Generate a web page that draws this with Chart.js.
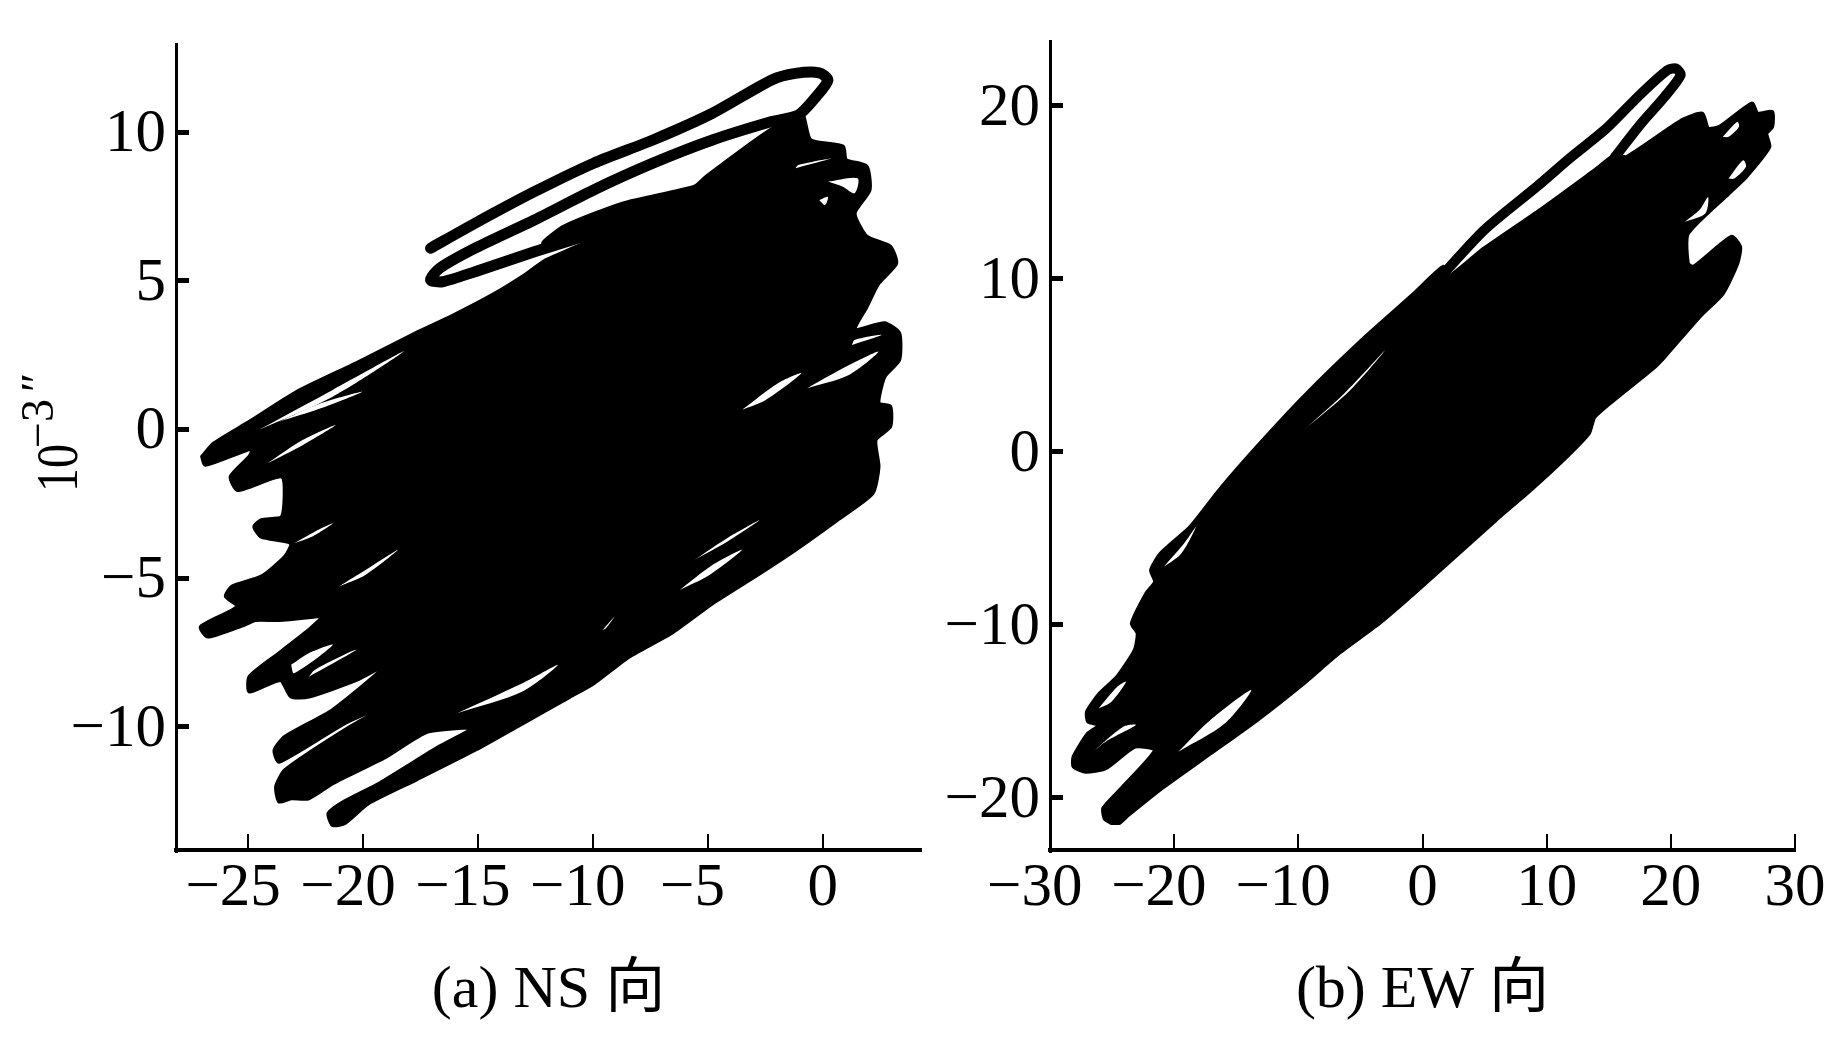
<!DOCTYPE html>
<html>
<head>
<meta charset="utf-8">
<title>NS EW</title>
<script src="https://cdn.jsdelivr.net/npm/chart.js@4"></script>
<style>
body { margin: 0; background: #fff; }
canvas { position: absolute; top: 0; }
#chartA { left: 0; }
#chartB { left: 930px; }
</style>
</head>
<body>
<canvas id="chartA" width="930" height="1039"></canvas>
<canvas id="chartB" width="913" height="1039"></canvas>
<script>
const ticksAX = [-25, -20, -15, -10, -5, 0]
const ticksAY = [-10, -5, 0, 5, 10]
const ticksBX = [-30, -20, -10, 0, 10, 20, 30]
const ticksBY = [-20, -10, 0, 10, 20]

// (a) NS: outline of the solid black part of the trace
const massAX = [-27.01,-26.5,-24.95,-22.88,-20.3,-17.72,-16.17,-14.36,-13.07,-12.03,-9.97,-12.16,-11.26,-8.68,-5.58,-5.06,-2.48,-0.93,-0.54,0.88,1.01,1.91,2.04,1.39,1.91,2.94,3.2,2.43,1.91,1.39,2.69,3.33,3.33,2.69,2.43,2.94,2.94,2.3,2.43,2.17,0.62,-1.19,-2.74,-4.8,-6.61,-8.42,-9.97,-11.0,-13.07,-15.13,-17.72,-19.78,-20.82,-21.33,-21.51,-20.82,-19.27,-16.68,-15.26,-17.2,-19.01,-21.33,-22.37,-23.14,-23.66,-23.79,-23.4,-20.56,-18.49,-20.82,-23.66,-23.86,-23.4,-21.33,-18.88,-20.3,-22.37,-23.14,-23.6,-24.95,-24.95,-23.66,-22.37,-21.59,-21.59,-23.66,-24.69,-25.21,-26.76,-27.07,-25.46,-25.98,-25.72,-24.43,-23.4,-23.14,-24.43,-24.74,-24.43,-23.53,-23.53,-25.46,-25.77,-24.95,-24.82,-26.88]
const massAY = [-0.91,-0.47,0.26,1.27,2.23,3.24,3.8,4.53,5.14,5.7,6.43,6.26,6.83,7.61,8.17,8.51,9.97,10.64,9.74,9.52,9.07,8.85,8.06,7.27,6.49,6.15,5.59,4.92,4.13,3.35,3.57,3.24,2.34,1.78,0.88,0.77,0.1,-0.35,-1.25,-2.15,-3.05,-4.05,-4.84,-5.85,-6.86,-7.64,-8.54,-8.99,-9.89,-10.78,-11.79,-12.58,-13.25,-13.31,-12.92,-12.52,-11.9,-10.67,-10.06,-10.17,-11.01,-11.9,-12.41,-12.41,-12.52,-12.02,-11.46,-10.0,-9.1,-9.89,-11.18,-10.79,-10.34,-9.44,-7.87,-8.43,-8.99,-8.99,-8.43,-8.82,-8.32,-7.53,-6.75,-6.2,-6.24,-6.41,-6.41,-6.58,-6.97,-6.64,-5.96,-5.62,-5.29,-4.95,-4.28,-3.83,-3.61,-3.27,-3.05,-2.93,-1.59,-2.04,-1.59,-0.91,-0.63,-1.19]
// the free loop at the top of (a)
const loopAX = [-17.07,-15.13,-12.55,-9.97,-7.39,-4.8,-2.22,-1.19,-0.15,0.23,-0.28,-1.06,-2.22,-4.8,-7.39,-9.97,-12.55,-15.13,-16.68,-17.07,-16.55,-15.13,-12.55,-9.97]
const loopAY = [6.1,6.94,8.0,8.96,9.74,10.64,11.76,11.98,12.0,11.76,11.2,10.58,10.36,9.74,8.96,8.06,7.05,6.1,5.42,5.03,4.97,5.31,5.98,6.6]
// white gaps inside the trace of (a)
const gapsAX = [
  [-24.56,-21.33,-18.23,-21.33],[-23.66,-21.85,-20.04,-21.85],[-24.17,-22.62,-21.2,-22.62],
  [-3.51,-1.96,-0.93,-2.48],[-0.67,0.88,2.43,1.14],[1.27,2.56,1.39],[-1.19,0.36,-1.06],
  [0.23,1.52,1.39,0.88],[-0.15,0.23,0.1],[-5.58,-4.16,-2.74,-4.16],[-6.22,-4.8,-3.51,-4.93],
  [-15.91,-13.07,-11.52,-13.07],[-23.01,-22.11,-21.33,-22.24],[-21.07,-19.78,-18.49,-19.91],
  [-23.14,-23.01,-21.33,-22.37],[-22.37,-20.3,-20.56,-22.11],[-9.58,-9.07,-9.45]
]
const gapsAY = [
  [-0.02,1.33,2.63,1.1],[0.26,0.88,1.27,0.71],[-1.14,-0.35,0.15,-0.52],
  [0.66,1.55,1.89,0.99],[1.39,2.06,2.62,1.83],[2.84,3.18,3.01],[8.79,9.12,8.9],
  [8.34,8.45,7.95,8.17],[7.72,7.83,7.55],[-4.39,-3.66,-3.05,-3.78],[-5.4,-4.56,-4.05,-4.9],
  [-9.55,-8.54,-7.92,-8.82],[-3.83,-3.44,-3.16,-3.61],[-5.29,-4.67,-4.05,-4.9],
  [-7.92,-8.2,-7.25,-7.53],[-8.32,-7.42,-7.48,-8.09],[-6.75,-6.3,-6.7]
]

// (b) EW
const massBX = [-25.1,-25.6,-25.7,-24.11,-21.53,-23.17,-25.52,-27.16,-28.1,-28.1,-26.93,-25.99,-26.93,-27.02,-25.99,-24.58,-23.17,-22.94,-23.41,-22.24,-21.53,-21.86,-21.07,-18.95,-18.25,-16.14,-13.33,-9.58,-4.89,-0.67,1.67,1.91,4.96,9.64,13.86,15.5,16.44,20.89,22.53,23.0,23.94,26.52,26.99,28.16,28.16,27.69,27.93,26.05,24.65,21.37,21.37,21.83,24.88,25.58,25.35,24.18,22.3,19.49,18.55,15.74,13.86,13.39,11.05,8.71,5.89,2.61,-0.67,-3.48,-6.77,-9.58,-13.33,-17.08,-20.83,-23.7,-24.4]
const massBY = [-21.45,-21.2,-20.6,-19.36,-17.24,-17.05,-18.3,-18.5,-18.2,-17.63,-16.28,-15.8,-15.6,-15.03,-13.97,-13.01,-11.47,-10.5,-9.93,-8.19,-7.52,-6.85,-5.88,-4.53,-3.96,-2.03,0.28,3.17,6.44,9.14,10.68,10.0,11.74,14.05,16.26,17.13,17.03,19.15,19.53,18.67,18.77,20.11,19.53,19.63,18.77,18.38,17.61,15.88,14.92,12.6,10.87,10.68,12.41,11.83,10.87,9.14,7.79,5.48,4.8,3.17,2.01,1.05,-0.68,-2.22,-3.96,-6.07,-8.19,-9.92,-11.66,-13.39,-15.51,-17.44,-19.36,-21.0,-21.45]
const loopBX = [0.74,4.96,9.18,11.99,14.8,17.61,19.72,20.42,20.79,19.49,17.61,15.5]
const loopBY = [9.52,12.8,15.3,17.03,18.67,20.69,22.04,22.14,21.76,20.5,18.96,17.03]
const gapsBX = [
  [-9.58,-6.3,-3.02,-5.83],[21.13,22.3,23.0,22.77],[24.65,25.82,26.05,25.11],[24.18,25.35,25.49,24.65],
  [-19.66,-17.08,-13.8,-15.9],[-26.69,-24.11,-23.08,-25.52],[-26.08,-24.58,-23.87,-25.05],[-20.83,-19.19,-18.25,-19.42]
]
const gapsBY = [
  [1.24,3.36,5.86,3.55],[13.28,13.96,14.72,13.76],[15.78,16.84,16.46,15.78],[18.19,19.06,18.77,18.19],
  [-17.34,-15.51,-13.78,-15.7],[-17.44,-15.9,-15.8,-16.76],[-14.84,-13.59,-13.3,-14.45],[-6.65,-5.3,-4.35,-5.88]
]

const serif = '"Liberation Serif", "Noto Sans CJK SC", serif'

function toPoints(xs, ys) {
  return xs.map((x, i) => ({ x: x, y: ys[i] }))
}

// same path, back to its first point
function closedPoints(xs, ys) {
  return toPoints(xs.concat(xs[0]), ys.concat(ys[0]))
}

function buildDatasets(massX, massY, loopX, loopY, gapsX, gapsY, loopWidth) {
  const sets = []
  gapsX.forEach((xs, i) => {
    sets.push({
      data: closedPoints(xs, gapsY[i]),
      showLine: true, fill: 'shape', backgroundColor: '#fff', tension: 0.3,
      borderWidth: 0, pointRadius: 0, order: 1
    })
  })
  sets.push({
    data: toPoints(loopX, loopY),
    showLine: true, borderColor: '#000', borderWidth: loopWidth, tension: 0.25,
    borderCapStyle: 'round', borderJoinStyle: 'round', pointRadius: 0, order: 2
  })
  sets.push({
    data: closedPoints(massX, massY),
    showLine: true, fill: 'shape', backgroundColor: '#000', borderColor: '#000', tension: 0.2,
    borderWidth: 4, borderJoinStyle: 'round', borderCapStyle: 'round', pointRadius: 0, order: 3
  })
  return sets
}

// minus sign hangs to the left, digits stay centred on the tick
function xLabel(v) {
  return v < 0 ? '\u2212' + Math.abs(v) + '\u2002' : String(v)
}
function yLabel(v) {
  return v < 0 ? '\u2212' + Math.abs(v) : String(v)
}

function makeChart(id, c) {
  return new Chart(document.getElementById(id), {
    type: 'scatter',
    data: { datasets: c.datasets },
    options: {
      responsive: false,
      animation: false,
      layout: { padding: { top: c.top, right: c.right, left: 0, bottom: 0 } },
      plugins: { legend: { display: false }, tooltip: { enabled: false } },
      scales: {
        x: {
          type: 'linear', min: c.xMin, max: c.xMax,
          afterBuildTicks: s => { s.ticks = c.xTicks.map(v => ({ value: v })) },
          afterFit: s => { s.height = 189; s.paddingLeft = 0; s.paddingRight = 0 },
          border: { color: '#000', width: 4 },
          grid: { drawOnChartArea: false, color: '#000', lineWidth: 2, tickLength: -16 },
          ticks: { color: '#000', padding: 18, maxRotation: 0, minRotation: 0, autoSkip: false,
            font: { family: serif, size: 61 }, callback: xLabel },
          title: { display: true, text: c.caption, color: '#000', align: 'center',
            font: { family: serif, size: 60 }, padding: { top: 44, bottom: 12 } }
        },
        y: {
          type: 'linear', min: c.yMin, max: c.yMax,
          afterBuildTicks: s => { s.ticks = c.yTicks.map(v => ({ value: v })) },
          afterFit: s => { s.width = c.left; s.paddingTop = 0; s.paddingBottom = 0 },
          border: { color: '#000', width: 3 },
          grid: { drawOnChartArea: false, color: '#000', lineWidth: 5, tickLength: -13 },
          ticks: { color: '#000', padding: 23, labelOffset: 3, autoSkip: false,
            font: { family: serif, size: 61 }, callback: yLabel }
        }
      }
    },
    plugins: c.plugins || []
  })
}

// rotated 10^-3" beside the left axis, chart.js titles have no superscript
const unitTitle = {
  id: 'unitTitle',
  afterDraw(chart) {
    const ctx = chart.ctx
    ctx.save()
    ctx.fillStyle = '#000'
    ctx.translate(77, 492)
    ctx.rotate(-Math.PI / 2)
    ctx.textBaseline = 'alphabetic'
    ctx.textAlign = 'left'
    ctx.font = '60px ' + serif
    ctx.save()
    ctx.scale(0.8, 1)
    ctx.fillText('10', 0, 0)
    ctx.restore()
    ctx.font = '46px ' + serif
    ctx.fillText('\u22123', 44, -24)
    ctx.fillText('\u2033', 100, -24)
    ctx.restore()
  }
}

makeChart('chartA', {
  datasets: buildDatasets(massAX, massAY, loopAX, loopAY, gapsAX, gapsAY, 11),
  xMin: -28.15, xMax: 4.28, yMin: -14.15, yMax: 12.97,
  xTicks: ticksAX, yTicks: ticksAY,
  top: 44, right: 9, left: 176,
  caption: '(a) NS 向',
  plugins: [unitTitle]
})

makeChart('chartB', {
  datasets: buildDatasets(massBX, massBY, loopBX, loopBY, gapsBX, gapsBY, 10),
  xMin: -30, xMax: 30, yMin: -23.02, yMax: 23.73,
  xTicks: ticksBX, yTicks: ticksBY,
  top: 41, right: 48, left: 120,
  caption: '(b) EW 向'
})
</script>
</body>
</html>
